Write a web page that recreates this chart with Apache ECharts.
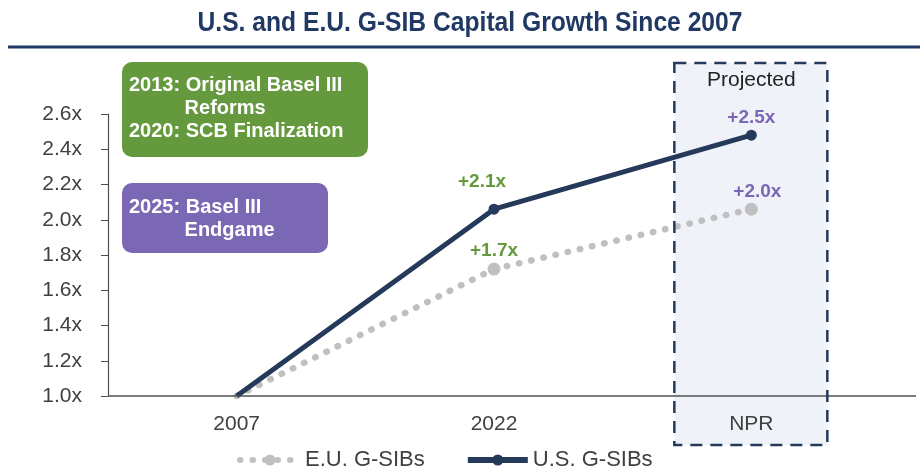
<!DOCTYPE html>
<html><head><meta charset="utf-8">
<script src="https://cdn.jsdelivr.net/npm/echarts@6/dist/echarts.min.js"></script>
<style>html,body{margin:0;padding:0;background:#fff}#c{width:920px;height:476px}</style>
</head><body><div id="c"></div>
<script>
const titleText = 'U.S. and E.U. G-SIB Capital Growth Since 2007';
const categories = ['2007', '2022', 'NPR'];
const euValues = [1.0, 1.72, 2.06];
const usValues = [1.0, 2.06, 2.48];
const euLabels = ['', '+1.7x', '+2.0x'];
const usLabels = ['', '+2.1x', '+2.5x'];
const yTicks = [1.0, 1.2, 1.4, 1.6, 1.8, 2.0, 2.2, 2.4, 2.6];
const projectedCategory = 'NPR';
const greenNote = ['2013: Original Basel III', '          Reforms', '2020: SCB Finalization'];
const purpleNote = ['2025: Basel III', '          Endgame'];

const FONT = 'Liberation Sans, Arial, sans-serif';
const GREEN = '#65993d', PURPLE = '#7b68b5', NAVY = '#253a5a', GRAY = '#c0c0c0', TXT = '#404040';

const chart = echarts.init(document.getElementById('c'));

function labelColor(i) { return i === 2 ? PURPLE : GREEN; }

const option = {
  animation: false,
  textStyle: { fontFamily: FONT },
  grid: { left: 108, right: 40, top: 114, bottom: 80 },
  legend: {
    bottom: 0, left: 232, itemGap: 40, itemWidth: 60, itemHeight: 14,
    textStyle: { fontFamily: FONT, fontSize: 22, color: TXT },
    data: [
      { name: 'E.U. G-SIBs', lineStyle: { width: 6 } },
      { name: 'U.S. G-SIBs', lineStyle: { width: 6 } }
    ]
  },
  xAxis: {
    type: 'category', data: categories, boundaryGap: true,
    axisLine: { show: false },
    axisTick: { show: false },
    axisLabel: { fontFamily: FONT, fontSize: 21, color: TXT, margin: 18 }
  },
  yAxis: {
    type: 'value', min: 1.0, max: 2.6, interval: 0.2,
    splitLine: { show: false },
    axisLine: { show: true, lineStyle: { color: '#505050', width: 1.2 } },
    axisTick: { show: true, inside: false, length: 7, lineStyle: { color: '#505050' } },
    axisLabel: { fontFamily: FONT, fontSize: 21, color: TXT, margin: 26,
      formatter: v => v.toFixed(1) + 'x' }
  },
  series: [
    {
      name: 'E.U. G-SIBs', type: 'line', z: 3,
      lineStyle: { color: GRAY, width: 6.5, type: [0.5, 12], cap: 'round' },
      itemStyle: { color: GRAY },
      symbol: 'circle', symbolSize: 13,
      data: euValues.map((v, i) => ({
        value: v,
        symbolSize: i === 0 ? 0 : 13,
        label: {
          show: i > 0, formatter: euLabels[i], position: 'top',
          distance: 2, offset: i === 2 ? [6, 1] : [0, 0],
          color: labelColor(i), fontFamily: FONT, fontWeight: 'bold', fontSize: 19
        }
      }))
    },
    {
      name: 'U.S. G-SIBs', type: 'line', z: 4,
      lineStyle: { color: NAVY, width: 5 },
      itemStyle: { color: NAVY },
      symbol: 'circle', symbolSize: 11,
      data: usValues.map((v, i) => ({
        value: v,
        symbolSize: i === 0 ? 0 : 11,
        label: {
          show: i > 0, formatter: usLabels[i], position: 'top',
          distance: 2, offset: i === 1 ? [-12, -10] : [0, 0],
          color: labelColor(i), fontFamily: FONT, fontWeight: 'bold', fontSize: 19
        }
      }))
    }
  ]
};
chart.setOption(option);

const cx = chart.convertToPixel({ xAxisIndex: 0 }, projectedCategory);
const yBase = chart.convertToPixel({ yAxisIndex: 0 }, 1.0);

function noteText(lines, x, y) {
  return lines.map((t, i) => ({
    type: 'text', x: x, y: y + i * 23, z: 10,
    style: { text: t, fill: '#fff', font: 'bold 20px ' + FONT, textVerticalAlign: 'middle' }
  }));
}

chart.setOption({
  graphic: [
    { type: 'text', z: 10, x: 470, y: 23, scaleX: 0.88,
      style: { text: titleText, fill: '#1f3864', font: 'bold 28px ' + FONT,
        textAlign: 'center', textVerticalAlign: 'middle' } },
    { type: 'line', shape: { x1: 8, y1: 47, x2: 920, y2: 47 },
      style: { stroke: '#1f3864', lineWidth: 3 } },
    { type: 'rect', z: 0, silent: true, shape: { x: cx - 77, y: 63, width: 153, height: 382 },
      style: { fill: 'rgba(40,90,170,0.075)', stroke: 'none' } },
    { type: 'line', z: 8, silent: true, shape: { x1: 108, y1: yBase, x2: 916, y2: yBase },
      style: { stroke: '#505050', lineWidth: 1.3 } },
    { type: 'rect', z: 8, silent: true, shape: { x: cx - 77, y: 63, width: 153, height: 382 },
      style: { fill: null, stroke: NAVY, lineWidth: 2.5, lineDash: [12, 8] } },
    { type: 'text', z: 5, x: cx, y: 80,
      style: { text: 'Projected', fill: '#222', font: '21px ' + FONT, textAlign: 'center', textVerticalAlign: 'middle' } },
    { type: 'rect', z: 9, shape: { x: 122, y: 62, width: 246, height: 95, r: 10 },
      style: { fill: GREEN } },
    ...noteText(greenNote, 129, 85),
    { type: 'rect', z: 9, shape: { x: 122, y: 183, width: 206, height: 70, r: 10 },
      style: { fill: PURPLE } },
    ...noteText(purpleNote, 129, 207)
  ]
});
</script></body></html>
